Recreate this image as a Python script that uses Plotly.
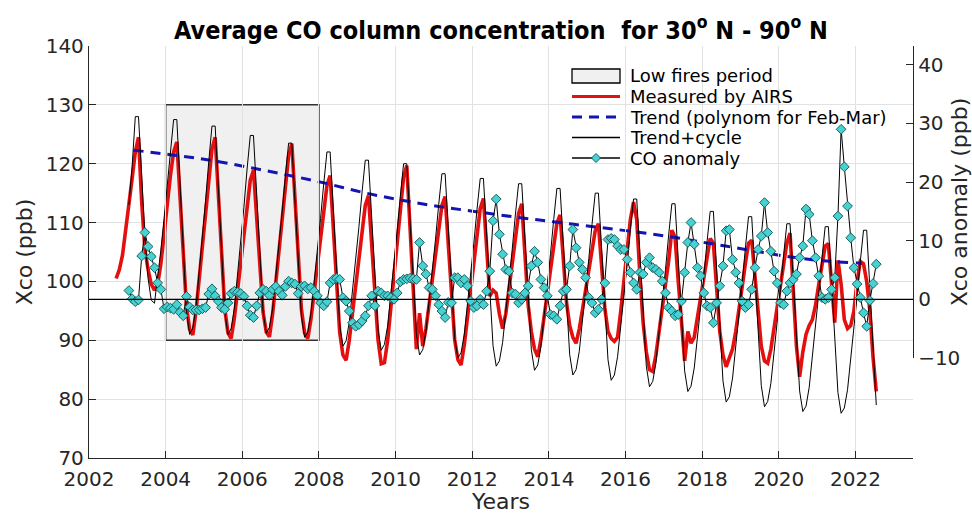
import plotly.graph_objects as go

# ---------------- data ----------------
# Monthly AIRS-measured Xco (ppb), Sep 2002 .. Jul 2022
airs_start = (2002, 9)
airs_xco = [
    100.5, 102.0, 104.5, 108.5,
    113.0, 117.5, 122.0, 124.5, 113.5, 105.5, 102.0, 99.5, 98.5, 99.5, 103.0, 107.5,
    113.0, 118.0, 122.0, 123.7, 114.5, 104.7, 95.8, 91.9, 90.9, 94.9, 100.3, 106.0,
    111.7, 117.1, 122.5, 124.5, 114.9, 104.7, 95.4, 91.3, 90.3, 93.7, 98.3, 103.2,
    108.0, 112.6, 117.2, 118.9, 111.0, 102.5, 94.8, 91.4, 90.6, 94.5, 99.8, 105.4,
    110.9, 116.2, 121.4, 123.4, 114.1, 104.2, 95.3, 91.3, 90.3, 93.6, 98.1, 102.8,
    107.5, 111.9, 116.3, 118.0, 109.2, 99.8, 91.3, 87.5, 86.6, 90.0, 94.4, 99.2,
    104.0, 108.4, 112.9, 114.6, 106.5, 97.9, 90.1, 86.0, 86.2, 89.9, 95.3, 101.1,
    106.8, 112.2, 117.7, 119.7, 110.5, 99.0, 88.5, 94.6, 89.0, 92.0, 96.1, 100.4,
    104.7, 108.8, 112.9, 114.4, 106.4, 97.8, 90.1, 86.7, 85.8, 89.2, 93.7, 98.5,
    103.3, 107.9, 112.4, 114.1, 105.0, 97.5, 98.5, 98.0, 94.5, 92.0, 94.5, 98.5,
    103.5, 107.5, 111.5, 113.2, 104.5, 96.0, 91.5, 88.5, 87.2, 90.1, 94.0, 98.0,
    102.1, 106.0, 109.9, 111.3, 104.0, 96.5, 92.5, 90.5, 89.5, 91.9, 95.2, 98.6,
    102.1, 105.3, 108.6, 109.8, 102.5, 95.5, 91.5, 90.3, 89.8, 90.5, 95.0, 100.5,
    106.0, 110.5, 113.5, 110.5, 101.0, 93.0, 88.0, 85.0, 84.7, 87.5, 91.5, 95.5,
    99.5, 103.5, 108.7, 107.5, 100.0, 92.5, 86.5, 91.5, 89.5, 90.5, 94.0, 97.5,
    101.0, 104.5, 107.3, 106.5, 99.5, 91.5, 87.5, 85.5, 87.0, 88.5, 91.5, 95.0,
    99.0, 103.0, 106.5, 107.0, 101.0, 94.0, 89.0, 86.5, 86.1, 88.5, 92.0, 95.5,
    99.0, 102.5, 106.5, 108.2, 99.0, 89.0, 83.8, 88.0, 91.0, 92.5, 93.5, 96.0,
    99.5, 103.0, 106.0, 106.4, 100.0, 93.0, 103.6, 99.5, 93.5, 92.0, 92.5, 95.0,
    100.0, 103.4, 103.0, 100.0, 95.0, 87.0, 81.3,
]

# Monthly trend + seasonal cycle (ppb), Jan 2003 .. Jul 2022
tc_start = (2003, 1)
trend_cycle = [
    113.0, 119.5, 128.0, 128.0, 118.0, 107.8, 100.5, 96.8, 96.3, 100.4, 105.3, 110.7,
    116.3, 122.2, 127.5, 127.5, 115.8, 104.1, 95.0, 91.0, 92.1, 95.6, 101.3, 107.3,
    113.7, 120.4, 126.4, 126.4, 115.1, 103.7, 94.9, 91.0, 92.0, 95.4, 100.8, 106.5,
    112.6, 119.1, 124.8, 124.8, 114.0, 103.3, 94.9, 91.2, 92.2, 95.4, 100.6, 106.1,
    111.9, 118.0, 123.5, 123.5, 112.9, 102.4, 94.1, 90.5, 91.4, 94.6, 99.6, 105.0,
    110.7, 116.6, 122.0, 122.0, 111.4, 100.9, 92.6, 89.0, 89.9, 93.1, 98.2, 103.5,
    109.2, 115.2, 120.6, 120.6, 110.3, 99.9, 91.9, 88.3, 89.3, 92.4, 97.5, 102.9,
    108.6, 114.6, 120.0, 120.0, 109.6, 99.2, 91.1, 87.5, 88.4, 91.5, 96.4, 101.7,
    107.2, 113.1, 118.3, 118.3, 108.3, 98.3, 90.4, 87.0, 87.9, 91.0, 95.8, 101.0,
    106.5, 112.3, 117.5, 117.5, 107.3, 97.1, 89.1, 85.6, 86.5, 89.6, 94.6, 99.9,
    105.4, 111.3, 116.6, 116.6, 106.5, 96.3, 88.4, 84.9, 85.8, 88.9, 93.9, 99.1,
    104.7, 110.5, 115.8, 115.8, 105.7, 95.5, 87.6, 84.1, 85.0, 88.1, 93.1, 98.3,
    103.9, 109.7, 115.0, 115.0, 104.8, 94.6, 86.7, 83.2, 84.1, 87.2, 92.1, 97.4,
    102.9, 108.8, 114.0, 114.0, 103.8, 93.6, 85.6, 82.1, 83.0, 86.1, 91.1, 96.4,
    102.0, 107.9, 113.2, 113.2, 103.0, 92.8, 84.8, 81.3, 82.2, 85.3, 90.2, 95.4,
    100.9, 106.7, 111.9, 111.9, 101.5, 91.2, 83.1, 79.5, 80.4, 83.6, 88.6, 94.0,
    99.7, 105.6, 111.0, 111.0, 100.7, 90.3, 82.3, 78.7, 79.6, 82.7, 87.7, 93.0,
    98.6, 104.5, 109.8, 109.8, 99.6, 89.4, 81.4, 77.9, 78.8, 82.0, 87.0, 92.3,
    98.0, 104.0, 109.3, 109.3, 99.2, 89.0, 81.1, 77.6, 78.5, 81.6, 86.6, 91.9,
    97.5, 103.4, 108.7, 108.7, 98.6, 88.4, 79.0,
]

# Monthly CO anomaly (ppb, right axis), Jan 2003 .. Jul 2022
anom_start = (2003, 1)
co_anomaly = [
    1.5, 0.1, -0.4, -0.1, 7.4, 11.4, 9.0, 7.3, 5.4, 2.8, 1.7, -1.6,
    -1.3, -1.5, -1.7, -0.9, -2.2, -2.8, 0.5, -1.3, -1.8, -1.8, -1.8, -1.6,
    -1.4, 0.9, 1.8, 0.6, -0.3, -1.4, -1.7, -0.6, 1.0, 1.4, 1.2, 1.0,
    0.5, -1.1, -2.7, -3.1, -1.1, 1.1, 1.7, 1.4, 0.7, 1.7, 2.2, 1.4,
    0.7, 2.2, 3.1, 2.8, 2.6, 1.0, 2.2, 2.3, 1.8, 2.0, 1.4, 0.6,
    -0.6, -1.1, -0.4, 2.8, 3.4, 3.6, 3.4, 0.3, -0.3, -2.0, -4.0, -4.6,
    -4.3, -3.7, -2.8, -1.1, 0.6, -1.1, 1.4, 1.1, 0.6, 0.6, 0.3, 0.0,
    1.1, 3.0, 3.4, 3.5, 3.6, 3.5, 3.4, 9.7, 5.7, 4.3, 2.0, 1.7,
    0.6, -0.9, -2.0, -3.1, -0.5, -0.6, 3.7, 3.7, 2.8, 3.4, 2.3, -0.3,
    -1.4, -1.1, 0.0, -0.9, 1.4, 4.8, 13.4, 17.1, 11.1, 7.7, 5.1, 4.8,
    1.1, 0.9, -0.6, 0.0, 1.1, 2.3, 5.7, 8.2, 6.3, 3.4, 2.0, 0.6,
    -2.6, -2.8, -3.4, -1.1, 1.4, 1.7, 5.7, 11.9, 8.8, 6.3, 5.1, 3.7,
    0.3, -0.6, -2.3, -1.7, 0.0, 2.8, 10.2, 10.4, 10.2, 9.1, 8.5, 8.5,
    6.8, 4.6, 2.8, 1.7, 4.6, 4.3, 6.3, 7.1, 5.4, 5.1, 4.6, 3.1,
    1.1, -1.4, -2.0, -2.8, -2.6, -0.3, 4.6, 9.7, 13.1, 9.4, 5.4, 4.0,
    1.1, -1.1, -1.4, -4.0, -0.6, 2.3, 5.7, 11.7, 11.9, 6.8, 4.6, 2.8,
    -0.3, -1.4, -0.9, 1.7, 5.4, 8.5, 10.8, 16.5, 11.4, 8.2, 4.8, 2.8,
    -0.6, -0.9, 1.4, 2.8, 3.4, 4.3, 7.1, 9.1, 15.4, 14.5, 10.0, 7.1,
    4.0, 0.3, 0.0, 0.3, 1.7, 3.7, 14.2, 29.0, 22.6, 15.9, 10.5, 5.4,
    2.6, 0.3, -2.3, -4.6, -0.2, 2.7, 6.0,
]

# Feb-Mar polynomial trend (ppb), one value per year
trend_years = [2003.16, 2004.16, 2005.16, 2006.16, 2007.16, 2008.16, 2009.16,
               2010.16, 2011.16, 2012.16, 2013.16, 2014.16, 2015.16, 2016.16,
               2017.16, 2018.16, 2019.16, 2020.16, 2021.16, 2022.16]
trend_xco = [122.3, 121.5, 120.6, 119.4, 118.1, 116.7, 115.1, 113.8, 112.7,
             111.8, 110.9, 110.1, 109.3, 108.5, 107.6, 106.5, 105.4, 104.3,
             103.5, 103.1]

# Low fires period box
low_fire_years = [2004, 2008]
low_fire_xco = [90, 130]

x_ticks = [2002, 2004, 2006, 2008, 2010, 2012, 2014, 2016, 2018, 2020, 2022]
y_ticks_left = [70, 80, 90, 100, 110, 120, 130, 140]
y_ticks_right = [-10, 0, 10, 20, 30, 40]
anomaly_zero = 0

legend_labels = ["Low fires period", "Measured by AIRS",
                 "Trend (polynom for Feb-Mar)", "Trend+cycle", "CO anomaly"]


def month_axis(start, n):
    y, m = start
    out = []
    for _ in range(n):
        out.append(y + (m - 0.5) / 12.0)
        m += 1
        if m > 12:
            m = 1
            y += 1
    return out


airs_t = month_axis(airs_start, len(airs_xco))
tc_t = month_axis(tc_start, len(trend_cycle))
anom_t = month_axis(anom_start, len(co_anomaly))

FONT = "DejaVu Sans, Verdana, sans-serif"
AX = "#262626"
RED = "#e41010"
BLUE = "#1414b4"
CYAN = "#46d2d2"
CYAN_EDGE = "#1d5f5f"
DASH = "10px,7px"

# plot-area pixel frame (used only for placing the hand-drawn legend)
W, H = 972, 514
PL, PR, PT, PB = 89, 913, 46, 458


def px(xp):
    return (xp - PL) / (PR - PL)


def py(yp):
    return (PB - yp) / (PB - PT)


fig = go.Figure()

x0, x1 = low_fire_years
y0, y1 = low_fire_xco
fig.add_trace(go.Scatter(
    x=[x0, x1, x1, x0, x0], y=[y0, y0, y1, y1, y0],
    mode="lines", fill="toself", fillcolor="#f0f0f0",
    line=dict(color="#333333", width=1.5),
    name=legend_labels[0], yaxis="y", hoverinfo="skip", showlegend=False))

fig.add_trace(go.Scatter(
    x=airs_t, y=airs_xco, mode="lines",
    line=dict(color=RED, width=3.6),
    name=legend_labels[1], yaxis="y", showlegend=False))

fig.add_trace(go.Scatter(
    x=trend_years, y=trend_xco, mode="lines",
    line=dict(color=BLUE, width=3, dash=DASH, shape="spline"),
    name=legend_labels[2], yaxis="y", showlegend=False))

fig.add_trace(go.Scatter(
    x=tc_t, y=trend_cycle, mode="lines",
    line=dict(color="black", width=1),
    name=legend_labels[3], yaxis="y", showlegend=False))

fig.add_trace(go.Scatter(
    x=anom_t, y=co_anomaly, mode="lines+markers",
    line=dict(color="black", width=1),
    marker=dict(symbol="diamond", size=7.5, color=CYAN,
                line=dict(color=CYAN_EDGE, width=1)),
    name=legend_labels[4], yaxis="y2", showlegend=False))

# zero line of the anomaly axis
fig.add_shape(type="line", xref="x domain", x0=0, x1=1,
              yref="y2", y0=anomaly_zero, y1=anomaly_zero,
              line=dict(color="black", width=1.2), layer="above")

# ---------------- legend (drawn by hand, transparent like the reference) ----
sym_x0, sym_x1, text_x = 572, 620, 628
row_y0, row_dy = 76, 20.5
rows = [row_y0 + i * row_dy for i in range(len(legend_labels))]

fig.add_shape(type="rect", xref="paper", yref="paper",
              x0=px(sym_x0), x1=px(sym_x1), y0=py(rows[0] + 7), y1=py(rows[0] - 7),
              fillcolor="#f0f0f0", line=dict(color="black", width=1.3), layer="above")
fig.add_shape(type="line", xref="paper", yref="paper",
              x0=px(sym_x0), x1=px(sym_x1), y0=py(rows[1]), y1=py(rows[1]),
              line=dict(color=RED, width=3), layer="above")
fig.add_shape(type="line", xref="paper", yref="paper",
              x0=px(sym_x0), x1=px(sym_x1), y0=py(rows[2]), y1=py(rows[2]),
              line=dict(color=BLUE, width=3, dash=DASH), layer="above")
fig.add_shape(type="line", xref="paper", yref="paper",
              x0=px(sym_x0), x1=px(sym_x1), y0=py(rows[3]), y1=py(rows[3]),
              line=dict(color="black", width=1.5), layer="above")
fig.add_shape(type="line", xref="paper", yref="paper",
              x0=px(sym_x0), x1=px(sym_x1), y0=py(rows[4]), y1=py(rows[4]),
              line=dict(color="black", width=1.5), layer="above")
cx, cy, r = (sym_x0 + sym_x1) / 2, rows[4], 4.5
diamond = "M {:.5f} {:.5f} L {:.5f} {:.5f} L {:.5f} {:.5f} L {:.5f} {:.5f} Z".format(
    px(cx - r), py(cy), px(cx), py(cy - r), px(cx + r), py(cy), px(cx), py(cy + r))
fig.add_shape(type="path", xref="paper", yref="paper", path=diamond,
              fillcolor=CYAN, line=dict(color=CYAN_EDGE, width=1), layer="above")

for label, yy in zip(legend_labels, rows):
    fig.add_annotation(text=label, xref="paper", yref="paper",
                       x=px(text_x), y=py(yy), xanchor="left", yanchor="middle",
                       showarrow=False,
                       font=dict(family=FONT, size=18, color="black"))

axis_common = dict(
    ticks="inside", ticklen=7, tickwidth=1.2, tickcolor=AX,
    showline=True, linecolor=AX, linewidth=1.3,
    zeroline=False, automargin=False,
    tickfont=dict(family=FONT, size=20, color=AX),
)

fig.update_layout(
    width=W, height=H, autosize=False,
    margin=dict(l=PL, r=W - PR, t=PT, b=H - PB, autoexpand=False),
    paper_bgcolor="white", plot_bgcolor="rgba(0,0,0,0)",
    font=dict(family=FONT, color=AX),
    title=dict(
        text="Average CO column concentration \u00a0for 30<sup>o</sup> N - 90<sup>o</sup> N",
        font=dict(family="DejaVu Sans Condensed, DejaVu Sans, sans-serif",
                  size=25, color="black", weight="bold"),
        x=0.5, xref="paper", xanchor="center",
        y=1 - 30 / H, yref="container", yanchor="middle"),
    xaxis=dict(range=[2002, 2023.5], tickvals=x_ticks,
               showgrid=True, gridcolor="#e2e2e2", gridwidth=1,
               ticklabelstandoff=3,
               title=dict(text="Years", font=dict(size=22, color=AX), standoff=4),
               **axis_common),
    yaxis=dict(range=[70, 140], tickvals=y_ticks_left,
               showgrid=True, gridcolor="#e2e2e2", gridwidth=1,
               title=dict(text="Xco (ppb)", font=dict(size=22, color=AX), standoff=6),
               **axis_common),
    yaxis2=dict(range=[-10, 43.2], tickvals=y_ticks_right,
                anchor="x", side="right", domain=[py(358), 1],
                showgrid=False,
                title=dict(text="Xco anomaly (ppb)", font=dict(size=22, color=AX), standoff=6),
                **axis_common),
    showlegend=False,
)

fig.write_html("out.html")
